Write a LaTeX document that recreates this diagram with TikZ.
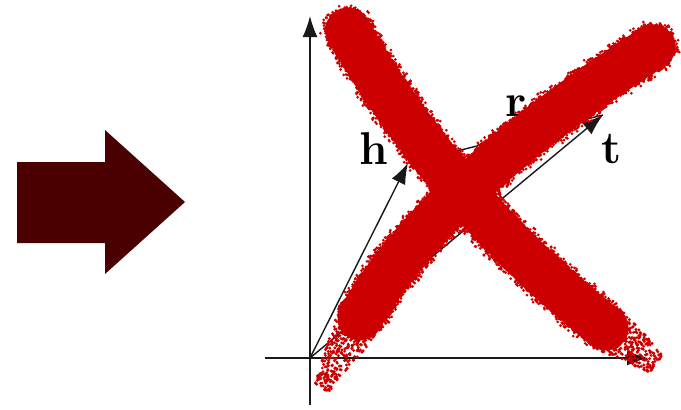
\documentclass[tikz,border=0pt]{standalone}
\usepackage{fontspec}
\usetikzlibrary{arrows.meta}
\definecolor{xred}{RGB}{204,0,0}
\definecolor{maroonfill}{RGB}{74,0,0}
\definecolor{axisgray}{RGB}{25,25,25}
\tikzset{
  axisline/.style={draw=axisgray, line width=1.4pt, -{Latex[length=21pt,width=15pt]}},
  vecline/.style={draw=axisgray, line width=1.4pt, -{Latex[length=21pt,width=15pt]}},
  plainline/.style={draw=axisgray, line width=1.4pt},
  lbl/.style={inner sep=0pt, font=\fontsize{46}{52}\selectfont\bfseries},
  crossstroke/.style={draw=xred, line width=45pt, line cap=round},
  speck/.style={fill=xred},
  bigarrow/.style={fill=maroonfill}
}
\newcommand\xspeck[7]{%
  \foreach \k in {1,...,#7}{%
    \pgfmathsetmacro\sT{rnd}%
    \pgfmathsetmacro\sX{(1-\sT)^2*#1+2*\sT*(1-\sT)*#3+\sT^2*#5}%
    \pgfmathsetmacro\sY{(1-\sT)^2*#2+2*\sT*(1-\sT)*#4+\sT^2*#6}%
    \pgfmathsetmacro\dX{(1-\sT)*(#3-#1)+\sT*(#5-#3)}%
    \pgfmathsetmacro\dY{(1-\sT)*(#4-#2)+\sT*(#6-#4)}%
    \pgfmathsetmacro\dL{veclen(\dX,\dY)}%
    \pgfmathsetmacro\sS{rnd}%
    \pgfmathsetmacro\sD{(\sS<0.5?-1:1)*(21+7*rnd*rnd)}%
    \fill[speck] ({\sX-\dY/\dL*\sD},{\sY+\dX/\dL*\sD}) circle (1.5pt);
  }}
\newcommand\xspray[6]{%
  \foreach \k in {1,...,#6}{%
    \pgfmathsetmacro\sR{rnd}%
    \pgfmathsetmacro\sE{#5*\sR*(0.3+0.7*\sR)}%
    \pgfmathsetmacro\sD{(2*rnd-1)*(24-0.2*\sE)}%
    \fill[speck] ({#1+#3*\sE-#4*\sD},{#2+#4*\sE+#3*\sD}) circle (1.6pt);
  }}
\newcommand\xcap[3]{%
  \foreach \k in {1,...,#3}{%
    \pgfmathsetmacro\sA{360*rnd}%
    \pgfmathsetmacro\sD{21+7*rnd*rnd}%
    \fill[speck] ({#1+\sD*cos(\sA)},{#2+\sD*sin(\sA)}) circle (1.5pt);
  }}
\begin{document}
\begin{tikzpicture}[x=1pt,y=-1pt]
\useasboundingbox (0,0) rectangle (681,410);
\pgfmathsetseed{42}
% big block arrow
\fill[bigarrow] (17,162) -- (105,162) -- (105,130) -- (185,202) -- (105,274) -- (105,243) -- (17,243) -- cycle;
% axes
\coordinate (O) at (310,358);
\coordinate (Ytop) at (310,16);
\coordinate (Ybot) at (310,405);
\coordinate (Xl) at (265,358);
\coordinate (Xr) at (648,358);
\coordinate (H) at (408,163);
\coordinate (T) at (603,115);
\draw[plainline] (Ybot) -- (O);
\draw[axisline] (O) -- (Ytop);
\draw[plainline] (Xl) -- (O);
\draw[axisline] (O) -- (Xr);
\draw[vecline] (O) -- (H);
\draw[vecline] (O) -- (T);
\draw[plainline] (H) -- (T);
\node[lbl] (hl) at (374,149) {h};
\node[lbl] (rl) at (516,106) {r};
\node[lbl] (tl) at (612,149) {t};
% red cross
\draw[crossstroke] (348,30) .. controls (414,145) and (500,244.3) .. (606,328);
\draw[crossstroke] (653,47) .. controls (510,138) and (412,228.3) .. (360,318);
\xspeck{348}{30}{447}{202.5}{606}{328}{1100}
\xspeck{653}{47}{438.5}{183.5}{360}{318}{1100}
\xcap{348}{30}{140}
\xcap{653}{47}{140}
\xspray{606}{328}{0.82}{0.57}{62}{380}
\xspray{360}{318}{-0.48}{0.88}{80}{400}
\end{tikzpicture}
\end{document}
